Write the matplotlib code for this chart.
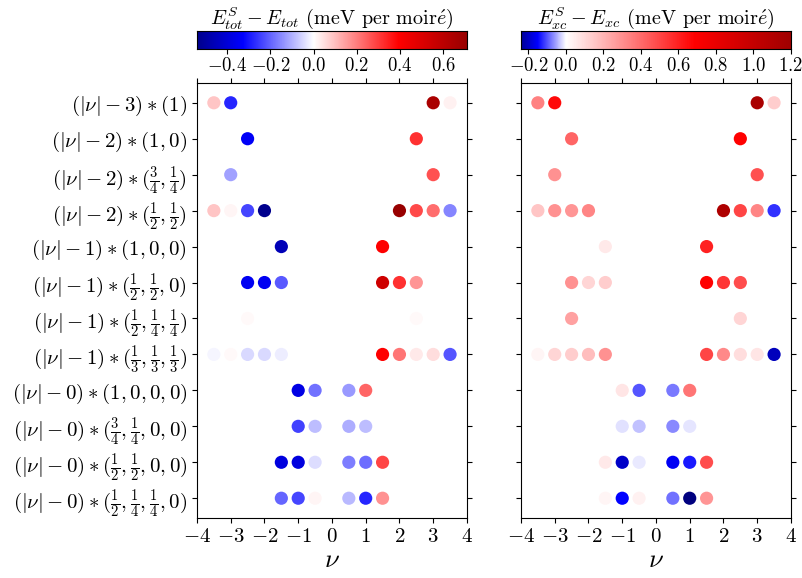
import numpy as np
import matplotlib
matplotlib.use("Agg")
import matplotlib.pyplot as plt
from matplotlib.colors import TwoSlopeNorm
from matplotlib.ticker import MultipleLocator

plt.rcParams['font.family'] = ['serif']
plt.rcParams['font.serif'] = ['cmr10', 'DejaVu Serif']
plt.rcParams['mathtext.fontset'] = 'cm'
plt.rcParams['axes.formatter.use_mathtext'] = True
plt.rcParams['axes.unicode_minus'] = True

# rows, top to bottom
row_labels = [
    r"$(|\nu|-3)\ast(1)$",
    r"$(|\nu|-2)\ast(1,0)$",
    r"$(|\nu|-2)\ast(\frac{3}{4},\frac{1}{4})$",
    r"$(|\nu|-2)\ast(\frac{1}{2},\frac{1}{2})$",
    r"$(|\nu|-1)\ast(1,0,0)$",
    r"$(|\nu|-1)\ast(\frac{1}{2},\frac{1}{2},0)$",
    r"$(|\nu|-1)\ast(\frac{1}{2},\frac{1}{4},\frac{1}{4})$",
    r"$(|\nu|-1)\ast(\frac{1}{3},\frac{1}{3},\frac{1}{3})$",
    r"$(|\nu|-0)\ast(1,0,0,0)$",
    r"$(|\nu|-0)\ast(\frac{3}{4},\frac{1}{4},0,0)$",
    r"$(|\nu|-0)\ast(\frac{1}{2},\frac{1}{2},0,0)$",
    r"$(|\nu|-0)\ast(\frac{1}{2},\frac{1}{4},\frac{1}{4},0)$",
]

# filling factors present in each row
row_nu = [
    [-3.5, -3, 3, 3.5],
    [-2.5, 2.5],
    [-3, 3],
    [-3.5, -3, -2.5, -2, 2, 2.5, 3, 3.5],
    [-1.5, 1.5],
    [-2.5, -2, -1.5, 1.5, 2, 2.5],
    [-2.5, 2.5],
    [-3.5, -3, -2.5, -2, -1.5, 1.5, 2, 2.5, 3, 3.5],
    [-1, -0.5, 0.5, 1],
    [-1, -0.5, 0.5, 1],
    [-1.5, -1, -0.5, 0.5, 1, 1.5],
    [-1.5, -1, -0.5, 0.5, 1, 1.5],
]

# E_tot^S - E_tot (meV per moire)
dE_tot = [
    [0.089, -0.281, 0.66, 0.022],
    [-0.342, 0.317],
    [-0.122, 0.267],
    [0.089, 0.016, -0.240, -0.538, 0.71, 0.278, 0.223, -0.159],
    [-0.464, 0.40],
    [-0.354, -0.354, -0.214, 0.545, 0.317, 0.162],
    [0.011, 0.011],
    [-0.012, 0.011, -0.051, -0.051, -0.024, 0.40, 0.211, 0.031, 0.055, -0.22],
    [-0.379, -0.181, -0.130, 0.240],
    [-0.244, -0.084, -0.104, -0.084],
    [-0.391, -0.391, -0.045, -0.169, -0.187, 0.289],
    [-0.200, -0.240, 0.016, -0.090, -0.279, 0.170],
]

# E_xc^S - E_xc (meV per moire)
dE_xc = [
    [0.338, 0.667, 1.15, 0.136],
    [0.42, 0.68],
    [0.30, 0.47],
    [0.161, 0.30, 0.288, 0.334, 1.13, 0.50, 0.334, -0.122],
    [0.054, 0.60],
    [0.30, 0.108, 0.136, 0.68, 0.54, 0.483],
    [0.253, 0.108],
    [0.028, 0.108, 0.136, 0.173, 0.30, 0.50, 0.322, 0.094, 0.068, -0.208],
    [0.068, -0.102, -0.081, 0.368],
    [-0.018, -0.036, -0.071, -0.015],
    [0.054, -0.199, -0.012, -0.161, -0.137, 0.483],
    [0.028, -0.152, 0.040, -0.084, -0.26, 0.288],
]

# (values, colorbar range, colour norm range, label)
panels = [
    (dE_tot, (-0.54, 0.71), (-0.66, 0.79), r"$E^S_{tot}-E_{tot}$ (meV per moir$\acute{e}$)"),
    (dE_xc, (-0.24, 1.2), (-0.305, 1.38), r"$E^S_{xc}-E_{xc}$ (meV per moir$\acute{e}$)"),
]

fig = plt.figure(figsize=(8.03, 5.78), dpi=100)
lefts = [0.2453, 0.6488]

xs = np.concatenate([np.array(n, float) for n in row_nu])
ys = np.concatenate([np.full(len(n), i) for i, n in enumerate(row_nu)])

for k, (vals, (cmin, cmax), (vmin, vmax), label) in enumerate(panels):
    ax = fig.add_axes([lefts[k], 0.1038, 0.3362, 0.7526])
    cax = fig.add_axes([lefts[k], 0.9152, 0.3362, 0.0311])
    norm = TwoSlopeNorm(vcenter=0.0, vmin=vmin, vmax=vmax)
    cs = np.concatenate([np.array(v, float) for v in vals])
    ax.scatter(xs, ys, c=cs, cmap='seismic', norm=norm, s=90, linewidths=0)
    ax.set_xlim(-4, 4)
    ax.set_yticks(range(len(row_labels)))
    ax.invert_yaxis()
    if k == 0:
        ax.set_yticklabels(row_labels, fontsize=16.5)
    else:
        ax.set_yticklabels([])
    ax.set_xticks(range(-4, 5))
    ax.tick_params(direction='out', top=True, right=True, labelsize=15)
    ax.set_xlabel(r"$\nu$", fontsize=19, labelpad=2)

    grad = np.linspace(cmin, cmax, 600)
    cax.imshow(grad[np.newaxis, :], cmap='seismic', norm=norm,
               extent=[cmin, cmax, 0, 1], aspect='auto')
    cax.set_xlim(cmin, cmax)
    cax.set_yticks([])
    cax.xaxis.set_major_locator(MultipleLocator(0.2))
    cax.tick_params(labelsize=13.5, pad=2)
    cax.set_title(label, fontsize=14.5, pad=2)

fig.savefig("out.png", dpi=100)
